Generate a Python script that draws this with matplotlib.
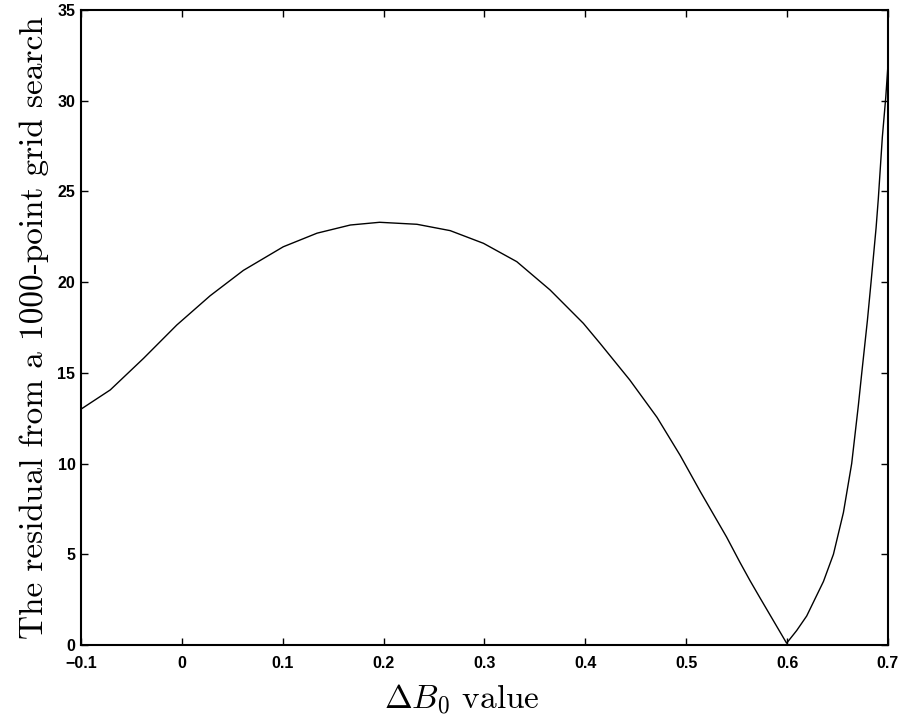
import numpy as np
import matplotlib.pyplot as plt

plt.rcParams['mathtext.fontset'] = 'cm'

# residual of the grid search, sampled along the Delta B0 axis
delta_b0 = [-0.100, -0.071, -0.038, -0.005, 0.028, 0.061, 0.1005,
            0.134, 0.167, 0.196, 0.233, 0.266, 0.299, 0.332, 0.365, 0.398,
            0.4145, 0.444, 0.471, 0.494, 0.514, 0.540, 0.5533, 0.5632,
            0.5731, 0.5863, 0.5995, 0.6095, 0.6194, 0.636, 0.6459, 0.6558,
            0.664, 0.6706, 0.674, 0.6796, 0.6832, 0.6882, 0.6904, 0.6944,
            0.6978, 0.700]
residual = [13.0, 14.06, 15.80, 17.64, 19.25, 20.65, 21.95,
            22.70, 23.15, 23.30, 23.19, 22.84, 22.14, 21.13, 19.57, 17.73,
            16.63, 14.61, 12.55, 10.45, 8.45, 5.95, 4.55, 3.55,
            2.60, 1.35, 0.10, 0.80, 1.60, 3.50, 5.00, 7.30,
            10.0, 13.2, 15.0, 17.9, 20.0, 23.0, 24.6, 28.0,
            30.2, 32.0]

xticks = [-0.1, 0, 0.1, 0.2, 0.3, 0.4, 0.5, 0.6, 0.7]
xtick_labels = ['\u22120.1', '0', '0.1', '0.2', '0.3', '0.4', '0.5', '0.6', '0.7']
yticks = [0, 5, 10, 15, 20, 25, 30, 35]

fig = plt.figure(figsize=(9.04, 7.21), dpi=100)
ax = fig.add_axes([0.0896, 0.1054, 0.8927, 0.8807])

ax.plot(delta_b0, residual, color='black', linewidth=1.0)

ax.set_xlim(-0.1, 0.7)
ax.set_ylim(0, 35)
ax.set_xticks(xticks)
ax.set_xticklabels(xtick_labels)
ax.set_yticks(yticks)

for lbl in ax.get_xticklabels() + ax.get_yticklabels():
    lbl.set_fontfamily('Liberation Sans')
    lbl.set_fontweight('bold')
    lbl.set_fontsize(11.5)

ax.tick_params(direction='in', length=5, width=1, top=True, right=True)
ax.tick_params(axis='x', pad=8)
ax.tick_params(axis='y', pad=4)
for sp in ax.spines.values():
    sp.set_linewidth(1.5)

ax.set_xlabel(r'$\Delta B_0$ value', fontfamily='cmr10', fontsize=24)
ax.xaxis.set_label_coords(0.472, -0.058)
ax.set_ylabel('The residual from a 1000-point grid search', fontfamily='cmr10',
              fontsize=24, labelpad=6)

fig.savefig('out.png', dpi=100)
